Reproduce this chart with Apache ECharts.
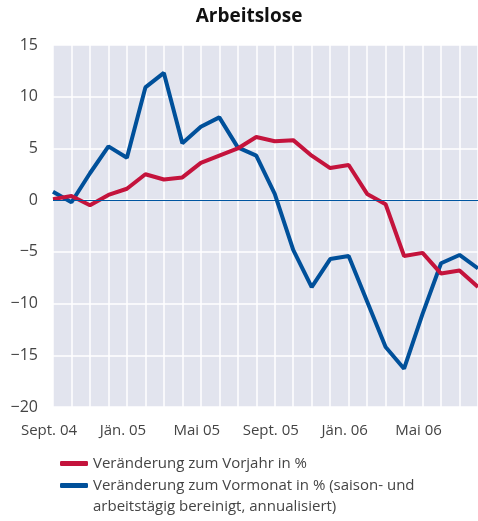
<!DOCTYPE html>
<html>
<head>
<meta charset="utf-8">
<script src="https://cdn.jsdelivr.net/npm/echarts@6/dist/echarts.min.js"></script>
<style>
html,body{margin:0;padding:0;background:#fff;}
#chart{width:478px;height:521px;}
</style>
</head>
<body>
<div id="chart"></div>
<script type="text/javascript">
// Monate Sept. 04 bis Aug. 06
var months = ['Sept. 04','Okt. 04','Nov. 04','Dez. 04','Jän. 05','Feb. 05','März 05','Apr. 05','Mai 05','Juni 05','Juli 05','Aug. 05',
              'Sept. 05','Okt. 05','Nov. 05','Dez. 05','Jän. 06','Feb. 06','März 06','Apr. 06','Mai 06','Juni 06','Juli 06','Aug. 06'];
var vorjahr = [0.1, 0.4, -0.5, 0.5, 1.1, 2.5, 2.0, 2.2, 3.6, 4.3, 5.0, 6.1,
               5.7, 5.8, 4.3, 3.1, 3.4, 0.6, -0.4, -5.4, -5.1, -7.1, -6.8, -8.4];
var vormonat = [0.8, -0.2, 2.6, 5.2, 4.1, 10.9, 12.3, 5.5, 7.1, 8.0, 5.1, 4.3,
                0.6, -4.8, -8.4, -5.7, -5.4, -9.8, -14.2, -16.3, -11.0, -6.1, -5.3, -6.6];
var yTicks = [-20, -15, -10, -5, 0, 5, 10, 15];
var names = ['Veränderung zum Vorjahr in %', 'Veränderung zum Vormonat in % (saison- und'];
var legendZusatz = 'arbeitstägig bereinigt, annualisiert)';

var font = 'Open Sans';
var legendText = {fontFamily: font, fontSize: 15, color: '#444'};
var chart = echarts.init(document.getElementById('chart'));
var option = {
    animation: false,
    title: {
        text: 'Arbeitslose',
        left: 244, top: 2, textAlign: 'center',
        textStyle: {fontFamily: font, fontWeight: 'bold', fontSize: 19, color: '#111'}
    },
    legend: {
        orient: 'vertical', left: 55, top: 451, height: 60,
        itemWidth: 28, itemHeight: 5, itemGap: 7, icon: 'roundRect',
        textStyle: legendText, data: names
    },
    graphic: [{
        type: 'text', left: 93, top: 499,
        style: {text: legendZusatz, fontFamily: font, fontSize: 15, fill: '#444'}
    }],
    grid: {
        left: 53, right: 0, top: 45, bottom: 114,
        show: true, backgroundColor: '#e2e4ee', borderWidth: 0
    },
    xAxis: {
        type: 'category',
        data: months,
        boundaryGap: false,
        axisLine: {show: false},
        axisTick: {show: false},
        axisLabel: {interval: 3, fontFamily: font, fontSize: 15, color: '#444', margin: 16, padding: [0, 8, 0, 0]},
        splitLine: {show: true, interval: 0, lineStyle: {color: '#fff', width: 1.5}}
    },
    yAxis: {
        type: 'value',
        min: yTicks[0], max: yTicks[yTicks.length - 1], interval: 5,
        axisLine: {show: false},
        axisTick: {show: false},
        axisLabel: {
            fontFamily: font, fontSize: 16, color: '#444', margin: 15,
            formatter: function (v) { return v < 0 ? '\u2212' + Math.abs(v) : String(v); }
        },
        splitLine: {lineStyle: {color: '#fff', width: 1.5}}
    },
    series: [
        {
            name: names[0], type: 'line', data: vorjahr,
            symbol: 'none', color: '#c4133c',
            lineStyle: {width: 4, color: '#c4133c'},
            markLine: {
                silent: true, symbol: 'none', label: {show: false},
                lineStyle: {color: '#0055a0', width: 1, type: 'solid'},
                data: [{yAxis: 0}]
            },
            z: 3
        },
        {
            name: names[1], type: 'line', data: vormonat,
            symbol: 'none', color: '#00509a',
            lineStyle: {width: 4, color: '#00509a'},
            z: 2
        }
    ]
};
chart.setOption(option);
</script>
</body>
</html>
